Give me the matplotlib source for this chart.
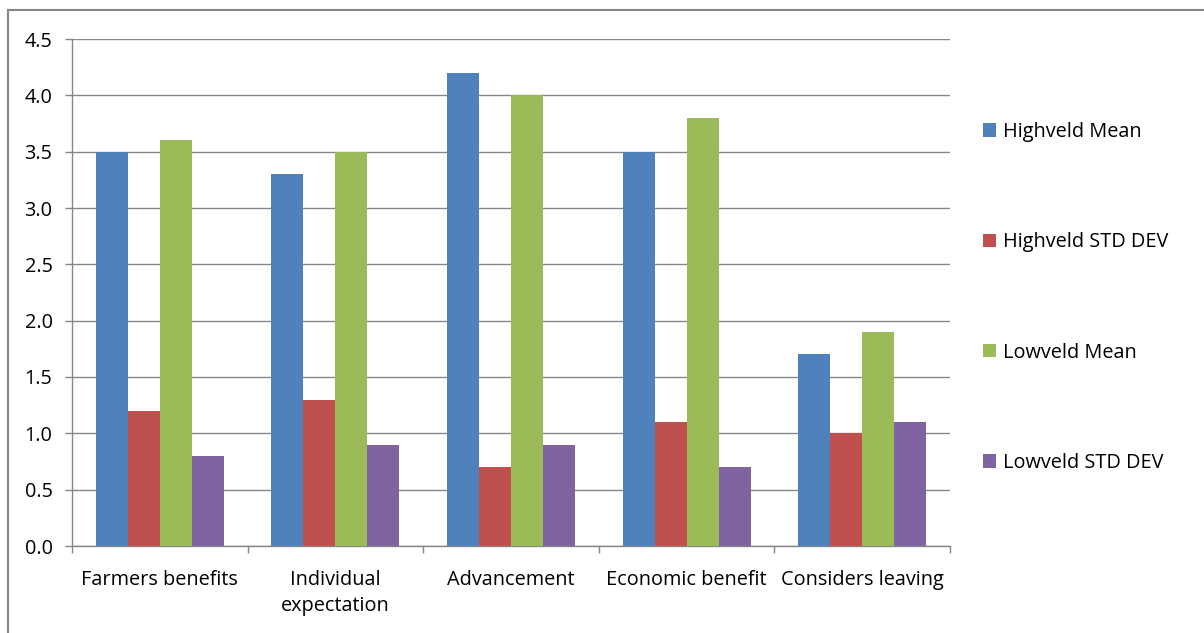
import matplotlib
matplotlib.use("Agg")
import matplotlib.pyplot as plt
from matplotlib.lines import Line2D
import numpy as np

categories = ["Farmers benefits", "Individual\nexpectation", "Advancement",
              "Economic benefit", "Considers leaving"]
series_names = ["Highveld Mean", "Highveld STD DEV", "Lowveld Mean", "Lowveld STD DEV"]
highveld_mean = [3.5, 3.3, 4.2, 3.5, 1.7]
highveld_std = [1.2, 1.3, 0.7, 1.1, 1.0]
lowveld_mean = [3.6, 3.5, 4.0, 3.8, 1.9]
lowveld_std = [0.8, 0.9, 0.9, 0.7, 1.1]
colors = ["#4F81BD", "#C0504D", "#9BBB59", "#8064A2"]
yticks = [0.0, 0.5, 1.0, 1.5, 2.0, 2.5, 3.0, 3.5, 4.0, 4.5]

plt.rcParams['font.family'] = ['Open Sans', 'DejaVu Sans']
FS = 14.3

W, H = 1204, 633
fig = plt.figure(figsize=(W / 100, H / 100), dpi=100)
ax = fig.add_axes([72 / W, 1 - 546 / H, (950 - 72) / W, (546 - 39) / H])

data = [highveld_mean, highveld_std, lowveld_mean, lowveld_std]
x = np.arange(len(categories))
bw = 32 / 175.6
for i, (vals, name, c) in enumerate(zip(data, series_names, colors)):
    ax.bar(x + (i - 1.5) * bw, vals, width=bw, color=c, label=name, zorder=3)

ax.set_xlim(-0.5, len(categories) - 0.5)
ax.set_ylim(0, 4.5)
ax.set_yticks(yticks)
ax.set_yticklabels([f"{v:.1f}" for v in yticks])
ax.yaxis.grid(True, color="#868686", linewidth=1.0, zorder=0)
ax.set_axisbelow(True)
ax.set_xticks(np.arange(len(categories) + 1) - 0.5, minor=False)
ax.set_xticklabels([])
ax.set_xticks(x, minor=True)
ax.set_xticklabels(categories, minor=True, fontsize=FS, linespacing=1.4)
ax.tick_params(axis="x", which="minor", length=0, pad=17)
ax.tick_params(axis="x", which="major", length=5, color="#868686", width=1)
ax.tick_params(axis="y", length=5, color="#868686", width=1, labelsize=FS, pad=9)
ax.tick_params(axis="y", direction="out")

for side in ["top", "right"]:
    ax.spines[side].set_visible(False)
for side in ["left", "bottom"]:
    ax.spines[side].set_color("#868686")
    ax.spines[side].set_linewidth(1.0)

leg = ax.legend(loc="upper left", bbox_to_anchor=(983 / W, 1 - 122 / H),
                bbox_transform=fig.transFigure, frameon=False, fontsize=FS,
                handlelength=0.65, handleheight=0.65, handletextpad=0.35,
                labelspacing=4.55, borderpad=0, borderaxespad=0)

# outer chart border (top and left visible)
fig.add_artist(Line2D([7.5 / W, 1.0], [1 - 9.5 / H, 1 - 9.5 / H], color="#868686",
                      linewidth=1.5, transform=fig.transFigure))
fig.add_artist(Line2D([7.5 / W, 7.5 / W], [0, 1 - 9.5 / H], color="#868686",
                      linewidth=1.5, transform=fig.transFigure))

fig.savefig("out.png", dpi=100)
